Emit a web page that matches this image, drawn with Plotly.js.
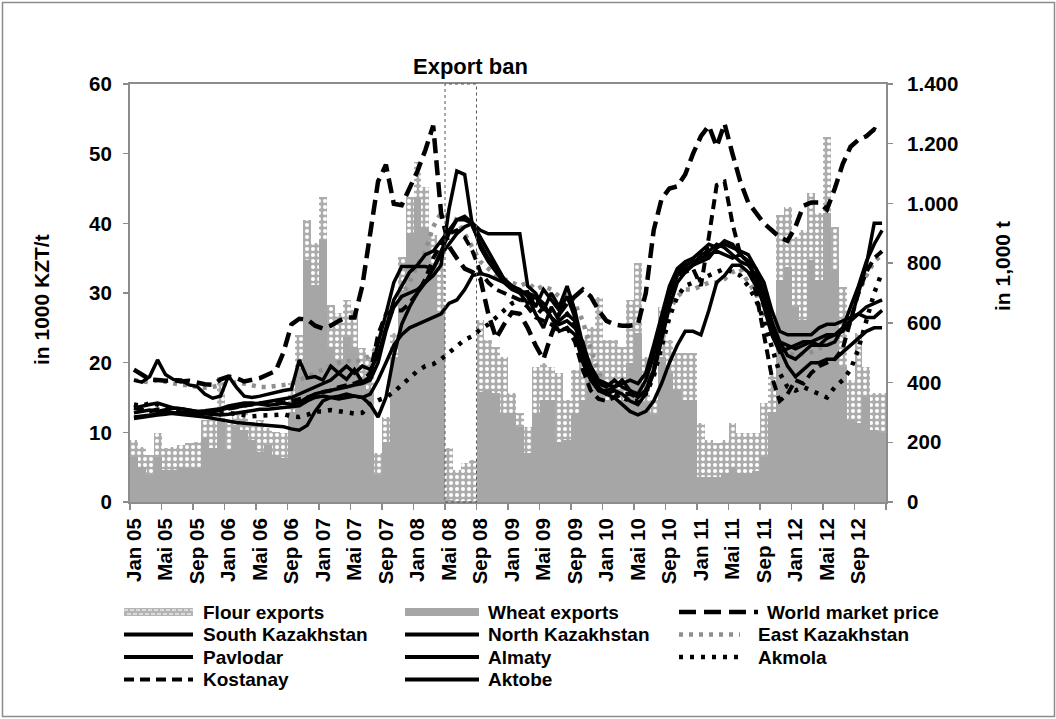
<!DOCTYPE html>
<html><head><meta charset="utf-8">
<script src="https://cdn.plot.ly/plotly-3.0.1.min.js"></script>
<style>html,body{margin:0;padding:0;background:#fff;}#chart{width:1056px;height:719px;}</style>
</head><body><div id="chart"></div>
<script>
// ---- data ----
const monthIndex = Array.from({length: 96}, (_, i) => i); // Jan 05 ... Dec 12
const tickLabels = ["Jan 05","Mai 05","Sep 05","Jan 06","Mai 06","Sep 06","Jan 07","Mai 07","Sep 07",
  "Jan 08","Mai 08","Sep 08","Jan 09","Mai 09","Sep 09","Jan 10","Mai 10","Sep 10","Jan 11","Mai 11","Sep 11",
  "Jan 12","Mai 12","Sep 12",""];
const rightTickVals = [0,200,400,600,800,1000,1200,1400];
const rightTickText = ["0","200","400","600","800","1.000","1.200","1.400"];

const wheatExports = [152,118,90,151,107,107,118,113,113,213,180,280,
  174,252,241,208,168,191,157,146,300,450,810,727,
  877,520,476,554,520,409,375,90,202,487,710,900,
  1018,922,794,632,8,5,5,5,369,375,365,297,
  297,252,163,297,342,342,202,208,297,342,409,431,
  342,342,342,465,565,330,291,487,431,375,342,342,
  85,85,85,97,118,97,96,103,152,300,743,788,
  654,610,810,743,967,777,453,275,264,353,241,230];
const flourExports = [56,67,67,79,73,78,73,83,89,62,95,140,
  89,45,67,50,107,56,78,84,100,110,134,139,
  145,140,156,123,123,106,112,73,84,78,112,122,
  122,134,100,178,172,102,125,136,241,168,155,190,
  68,45,89,156,123,111,229,134,145,212,178,257,
  201,201,178,212,235,157,51,167,112,123,156,156,
  179,123,112,111,146,133,134,127,178,130,218,201,
  234,301,224,224,256,145,268,134,301,100,123,134];

const worldMarket = [19.0,18.3,17.6,17.5,17.4,17.5,17.3,17.4,17.1,16.9,16.8,17.6,
  18.0,17.8,17.3,17.5,17.8,18.3,18.8,21.5,25.5,26.3,26.2,25.3,
  24.9,25.3,26.0,26.5,26.5,31.0,39.0,46.0,48.4,42.8,42.6,45.0,
  47.5,50.5,54.0,41.5,36.7,35.0,33.5,33.0,32.0,27.0,23.5,25.5,
  27.2,27.0,25.0,22.5,20.5,24.0,27.0,28.5,29.5,30.5,29.5,27.5,
  26.0,25.5,25.3,25.3,25.5,30.0,39.0,43.5,45.0,45.3,47.0,50.0,
  52.5,54.0,51.0,54.3,50.0,46.0,43.0,41.5,40.0,39.0,38.0,37.5,
  39.5,42.5,43.0,43.0,42.0,45.0,48.5,51.0,52.0,52.5,53.5,53.0];
const southKazakhstan = [17.5,17.2,18.0,20.4,18.3,17.6,17.5,16.8,16.6,15.5,14.9,15.2,
  18.1,16.5,15.2,15.0,15.2,15.5,15.8,16.0,16.2,20.4,17.8,18.0,
  17.5,19.5,18.5,17.6,19.0,17.2,18.0,22.8,27.0,31.5,33.8,33.8,
  33.8,33.8,33.5,36.0,38.5,40.5,41.0,40.0,36.5,34.5,33.0,31.5,
  30.5,30.0,30.2,28.0,30.5,29.0,27.5,29.5,26.5,22.0,19.0,17.0,
  16.5,17.5,16.5,16.0,15.5,17.5,21.0,25.5,30.0,33.0,34.0,34.5,
  35.0,35.5,36.0,35.5,35.0,35.5,34.5,32.0,28.0,24.0,21.5,22.0,
  22.5,23.0,23.0,22.5,23.5,24.0,25.0,26.0,27.0,28.0,28.5,29.0];
const northKazakhstan = [13.5,13.8,14.0,14.2,13.8,13.5,13.4,13.2,13.0,12.8,13.0,13.3,
  13.5,13.6,13.8,14.0,14.3,14.5,14.6,14.8,15.0,15.5,16.0,16.5,
  17.0,17.5,18.5,19.5,18.5,19.5,19.0,21.0,25.0,29.0,31.0,33.0,
  34.0,35.5,36.0,37.5,39.0,40.5,40.5,40.0,38.0,36.0,34.0,32.0,
  31.0,30.0,28.5,29.5,27.5,30.0,28.0,31.0,27.5,22.5,19.5,17.5,
  17.0,16.5,17.0,17.5,17.0,18.5,22.5,27.0,31.0,33.5,34.5,35.0,
  36.0,37.0,36.5,37.5,37.0,35.5,34.5,33.5,31.5,27.5,24.5,24.0,
  24.0,24.0,24.0,25.0,25.5,25.5,26.0,26.5,27.0,26.5,26.5,27.5];
const eastKazakhstan = [17.5,17.3,17.2,17.5,17.3,17.0,16.8,16.8,16.5,16.4,16.5,16.8,
  17.0,17.2,17.0,16.8,16.5,16.5,16.6,16.8,17.0,17.5,18.0,18.5,
  19.0,19.5,20.0,20.3,20.0,20.5,21.0,22.5,26.0,28.0,29.5,31.5,
  34.0,36.0,39.5,41.5,41.0,40.5,38.5,36.5,34.5,33.5,32.5,32.0,
  31.5,31.0,31.5,30.5,31.0,30.5,29.5,30.0,28.5,26.0,22.0,18.5,
  16.0,15.5,15.0,15.3,15.8,16.5,19.0,23.5,27.5,29.5,30.5,30.5,
  31.0,31.5,31.5,32.0,33.0,33.5,31.5,30.0,27.0,24.5,22.5,21.5,
  21.0,21.3,21.5,22.0,22.5,23.0,24.5,27.0,30.0,32.5,34.5,35.5];
const pavlodar = [12.0,12.2,12.4,12.5,12.6,12.8,12.9,12.8,12.7,12.6,12.6,12.5,
  12.6,12.8,13.0,13.2,13.3,13.3,13.4,13.5,13.6,13.8,14.5,15.0,
  15.2,15.0,14.8,15.0,15.2,15.0,14.0,12.2,15.0,21.0,25.5,28.0,
  30.0,31.5,33.5,35.5,37.0,38.5,39.5,40.0,39.0,38.5,38.5,38.5,
  38.5,38.5,31.0,30.0,28.0,26.5,24.5,25.0,24.0,20.0,17.5,16.0,
  16.0,16.5,17.5,16.0,15.0,16.0,19.0,24.0,29.5,32.5,33.5,34.0,
  35.5,36.0,37.0,36.5,35.5,34.5,34.0,32.5,29.0,25.0,23.0,22.5,
  22.0,22.5,23.0,23.5,24.0,24.0,24.5,26.0,30.0,34.0,40.0,40.0];
const almaty = [12.8,13.0,13.2,13.0,13.3,13.5,13.4,13.2,13.0,13.1,13.2,13.4,
  13.8,14.0,14.2,14.2,14.0,13.9,14.0,14.2,14.0,14.3,15.0,15.5,
  15.8,16.0,16.3,16.5,16.8,17.0,17.5,20.0,24.5,28.0,29.5,30.0,
  30.5,31.5,32.5,34.0,42.0,47.5,47.0,39.5,37.0,35.0,33.5,32.0,
  31.0,30.5,29.5,27.0,25.0,28.0,26.0,27.0,26.0,21.0,18.0,16.0,
  15.5,16.0,15.5,14.5,14.0,15.5,18.5,23.0,28.0,31.5,33.0,34.0,
  34.5,35.0,36.5,37.0,36.5,36.0,35.5,33.5,30.0,26.0,23.0,21.0,
  20.5,21.5,22.5,22.5,22.5,23.0,25.0,28.0,31.0,34.5,37.0,39.0];
const akmola = [14.0,13.8,14.2,14.0,13.5,13.3,13.0,12.8,12.6,12.5,12.6,12.8,
  12.8,12.6,12.5,12.3,12.4,12.4,12.5,12.6,12.3,12.2,12.5,13.0,
  13.0,13.2,13.0,12.8,12.7,12.8,14.0,14.6,15.0,15.8,16.8,17.8,
  18.8,19.5,19.8,20.5,21.5,22.5,23.3,23.8,24.8,25.5,26.5,27.5,
  28.5,29.0,29.0,28.0,27.0,27.5,26.5,27.0,25.5,22.0,18.5,16.5,
  15.8,15.5,15.0,14.5,14.5,15.5,18.0,22.0,26.5,29.5,31.0,31.5,
  32.0,32.5,33.0,33.5,33.0,32.5,31.0,29.0,26.0,22.0,18.5,16.5,
  16.0,16.5,16.0,15.5,15.0,16.5,17.5,19.0,22.0,26.0,30.0,33.0];
const kostanay = [13.5,13.2,13.0,13.3,13.0,12.8,12.7,12.6,12.5,12.8,13.0,13.3,
  13.5,13.6,13.8,14.0,14.2,14.0,14.1,14.3,14.5,14.8,15.0,15.3,
  15.8,16.0,16.5,16.8,17.0,17.5,18.5,24.0,27.0,27.5,27.5,28.5,
  30.0,32.0,35.0,37.0,38.5,39.0,38.0,36.0,33.0,31.5,30.5,30.0,
  29.5,29.0,28.0,26.5,26.0,25.5,24.5,25.0,23.0,19.0,16.0,14.8,
  14.5,15.0,15.5,15.5,15.0,16.0,19.0,24.0,29.0,32.0,33.0,33.5,
  31.0,38.0,45.5,46.0,40.0,35.5,34.5,30.0,24.0,18.0,14.5,15.5,
  17.5,17.0,18.5,19.5,20.0,20.5,22.0,26.0,30.0,33.0,35.0,36.0];
const aktobe = [12.2,12.3,12.5,12.6,12.8,12.7,12.6,12.5,12.4,12.2,12.0,11.8,
  11.5,11.4,11.3,11.2,11.0,11.0,10.9,10.8,10.5,10.3,11.0,13.0,
  14.5,15.0,15.2,15.5,15.2,15.0,15.5,17.5,20.0,22.5,24.0,25.0,
  25.5,26.0,26.5,27.0,28.5,29.0,30.5,32.5,32.8,32.5,32.0,31.5,
  31.0,30.2,30.0,29.5,28.5,26.5,25.5,26.0,25.0,23.0,19.0,16.5,
  15.5,15.0,14.0,13.0,12.5,13.0,14.5,17.0,20.0,22.5,24.5,24.5,
  24.0,27.5,31.5,32.5,34.0,34.0,33.0,31.0,28.5,25.0,22.0,19.5,
  18.0,19.0,20.0,20.0,20.5,20.5,21.5,22.5,23.5,24.5,25.0,25.0];

// ---- geometry (pixels of the 1056x719 page) ----
const W = 1056, H = 719, L = 130, R = 886, T = 84, B = 502;
const px = v => (v - L) / (R - L);
const py = v => (B - v) / (B - T);
const FONT = "Liberation Sans, Arial, sans-serif";
const AXC = "#8c8c8c";

const boundaries = Array.from({length: 25}, (_, k) => k * 4 - 0.5);

const traces = [
  {type:'bar', name:'Wheat exports', x:monthIndex, y:wheatExports, xaxis:'x', yaxis:'y',
   marker:{color:'#a6a6a6', line:{width:0}}, showlegend:false},
  {type:'bar', name:'Flour exports', x:monthIndex, y:flourExports, xaxis:'x', yaxis:'y',
   marker:{color:'#adadad', line:{width:0},
     pattern:{shape:'.', fgcolor:'#ffffff', bgcolor:'#acacac', size:6, solidity:0.35, fillmode:'replace'}},
   showlegend:false},
];
function ln(name, data, color, width, dash){
  traces.push({type:'scatter', mode:'lines', name, x:monthIndex, y:data, xaxis:'x', yaxis:'y2',
    line:{color, width, dash}, showlegend:false});
}
ln('East Kazakhstan', eastKazakhstan, '#8f8f8f', 4.5, '4px,6px');
ln('Aktobe', aktobe, '#000', 3.5, 'solid');
ln('Pavlodar', pavlodar, '#000', 3.5, 'solid');
ln('North Kazakhstan', northKazakhstan, '#000', 3.5, 'solid');
ln('Almaty', almaty, '#000', 3.5, 'solid');
ln('South Kazakhstan', southKazakhstan, '#000', 3.5, 'solid');
ln('Akmola', akmola, '#000', 4.5, '4px,7px');
ln('Kostanay', kostanay, '#000', 4, '10px,6px');
ln('World market price', worldMarket, '#000', 4.5, '15px,7px');

const tickFont = {family:FONT, size:20.5, color:'#000', weight:700};

const shapes = [
  {type:'rect', xref:'paper', yref:'paper', x0:px(2.5), x1:px(1054.5), y0:py(716.5), y1:py(2.5),
   line:{color:AXC, width:1.5}, layer:'below'},
  {type:'rect', xref:'x', yref:'paper', x0:39.5, x1:43.5, y0:0, y1:1,
   line:{color:'#555', width:1, dash:'dot'}, layer:'above'},
];
const annotations = [
  {text:'<b>Export ban</b>', xref:'paper', yref:'paper', x:px(470), y:py(67), xanchor:'center', yanchor:'middle',
   showarrow:false, font:{family:FONT, size:22, color:'#000'}},
  {text:'<b>in 1000 KZT/t</b>', xref:'paper', yref:'paper', x:px(41), y:py(300), textangle:-90,
   xanchor:'center', yanchor:'middle', showarrow:false, font:{family:FONT, size:21, color:'#000'}},
  {text:'<b>in 1,000 t</b>', xref:'paper', yref:'paper', x:px(1002), y:py(266), textangle:-90,
   xanchor:'center', yanchor:'middle', showarrow:false, font:{family:FONT, size:21, color:'#000'}},
];

// ---- custom legend ----
const legendItems = [
  {name:'Flour exports', kind:'flour', col:0, row:0},
  {name:'Wheat exports', kind:'wheat', col:1, row:0},
  {name:'World market price', kind:'line', dash:'17px,8px', color:'#000', w:4.5, col:2, row:0, end:758},
  {name:'South Kazakhstan', kind:'line', dash:'solid', color:'#000', w:4, col:0, row:1},
  {name:'North Kazakhstan', kind:'line', dash:'solid', color:'#000', w:4, col:1, row:1},
  {name:'East Kazakhstan', kind:'line', dash:'4px,6px', color:'#8f8f8f', w:4.5, col:2, row:1, short:true},
  {name:'Pavlodar', kind:'line', dash:'solid', color:'#000', w:4, col:0, row:2},
  {name:'Almaty', kind:'line', dash:'solid', color:'#000', w:4, col:1, row:2},
  {name:'Akmola', kind:'line', dash:'4px,7px', color:'#000', w:4.5, col:2, row:2, short:true},
  {name:'Kostanay', kind:'line', dash:'10px,6px', color:'#000', w:4, col:0, row:3},
  {name:'Aktobe', kind:'line', dash:'solid', color:'#000', w:4, col:1, row:3},
];
const colSym = [[124,193],[405,479],[679,762]];
const colText = [201, 486, 765];
const rowY = [612, 634.5, 657, 679.5];
legendItems.forEach(it => {
  const [s0, s1] = colSym[it.col];
  const yc = rowY[it.row];
  let tx = colText[it.col];
  if (it.kind === 'flour' || it.kind === 'wheat') {
    shapes.push({type:'rect', xref:'paper', yref:'paper', x0:px(s0), x1:px(s1), y0:py(yc+4), y1:py(yc-4),
      fillcolor: it.kind === 'flour' ? '#b4b4b4' : '#a6a6a6', line:{width:0}});
    if (it.kind === 'flour') {
      [yc-2, yc+2].forEach((yy, k) => shapes.push({type:'line', xref:'paper', yref:'paper',
        x0:px(s0 + (k ? 3 : 0)), x1:px(s1), y0:py(yy), y1:py(yy), line:{color:'#fff', width:1.2, dash:'4px,2px'}}));
    }
  } else {
    let e = it.short ? s1 - 22 : s1;
    if (it.end) e = it.end;
    if (it.short) tx = 756;
    shapes.push({type:'line', xref:'paper', yref:'paper', x0:px(s0), x1:px(e), y0:py(yc), y1:py(yc),
      line:{color:it.color, width:it.w, dash:it.dash}});
  }
  annotations.push({text:'<b>' + it.name + '</b>', xref:'paper', yref:'paper', x:px(tx), y:py(yc),
    xanchor:'left', yanchor:'middle', showarrow:false, font:{family:FONT, size:19, color:'#000'}});
});

const layout = {
  width:W, height:H, margin:{l:L, r:W-R, t:T, b:H-B, pad:0},
  paper_bgcolor:'#fff', plot_bgcolor:'#fff', showlegend:false,
  barmode:'stack', bargap:0,
  font:{family:FONT, size:19, color:'#000'},
  xaxis:{range:[-0.5, 95.5], tickmode:'array', tickvals:boundaries, ticktext:tickLabels,
    tickangle:-90, ticklabelshift:4, ticks:'outside', ticklen:6, tickwidth:1.5, tickcolor:AXC,
    showline:true, linecolor:AXC, linewidth:2, mirror:true, showgrid:false, zeroline:false,
    tickfont:tickFont, fixedrange:true},
  yaxis:{range:[0,1400], side:'right', tickmode:'array', tickvals:rightTickVals, ticktext:rightTickText,
    ticks:'outside', ticklen:5, tickwidth:1.5, tickcolor:AXC, showline:true, linecolor:AXC, linewidth:2,
    showgrid:false, zeroline:false, tickfont:tickFont, ticklabelstandoff:10},
  yaxis2:{range:[0,60], overlaying:'y', side:'left', tickmode:'linear', tick0:0, dtick:10,
    ticks:'outside', ticklen:5, tickwidth:1.5, tickcolor:AXC, showline:true, linecolor:AXC, linewidth:2,
    showgrid:false, zeroline:false, tickfont:tickFont, ticklabelstandoff:7},
  shapes, annotations,
};
Plotly.newPlot('chart', traces, layout, {displayModeBar:false, staticPlot:true});
</script></body></html>
